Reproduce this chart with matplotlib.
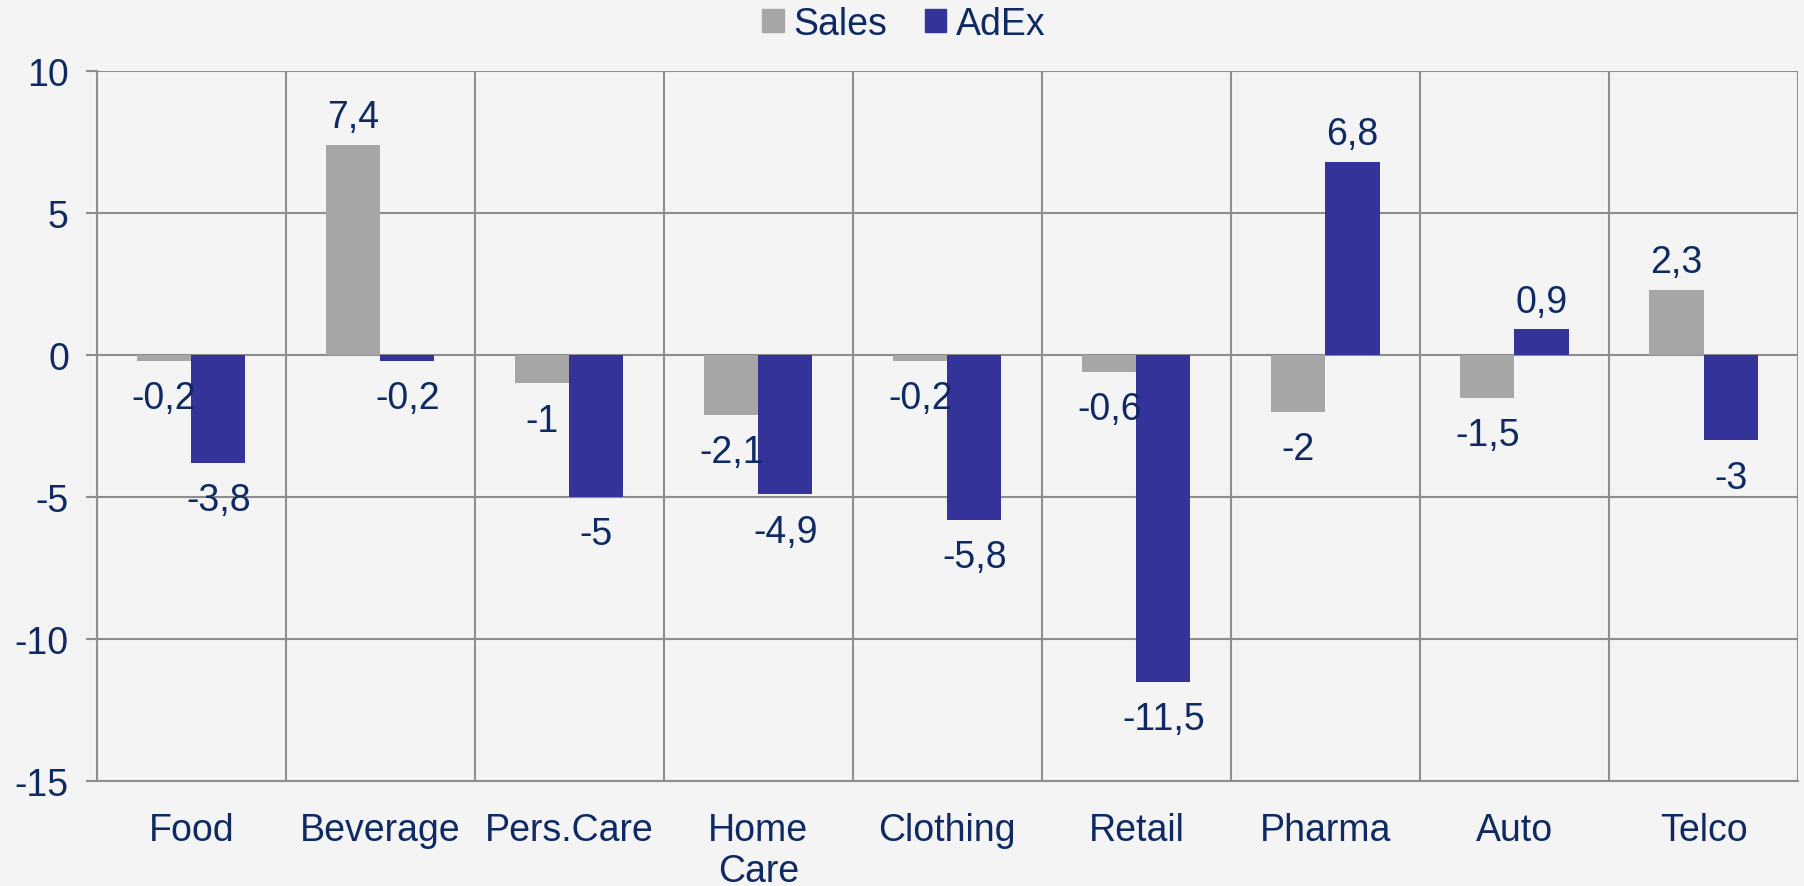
import matplotlib
matplotlib.use("Agg")
import matplotlib.pyplot as plt
import numpy as np
from matplotlib.patches import Patch

categories = ["Food", "Beverage", "Pers.Care", "Home\nCare", "Clothing", "Retail", "Pharma", "Auto", "Telco"]
sales = [-0.2, 7.4, -1, -2.1, -0.2, -0.6, -2, -1.5, 2.3]
adex = [-3.8, -0.2, -5, -4.9, -5.8, -11.5, 6.8, 0.9, -3]
series_names = ["Sales", "AdEx"]
yticks = [-15, -10, -5, 0, 5, 10]

plt.rcParams['font.family'] = ['Liberation Sans', 'DejaVu Sans']
TXT = '#0F2A62'
GRID = '#8E8E8E'
BG = '#F4F4F4'
C_SALES = '#A6A6A6'
C_ADEX = '#333399'
FS = 27

fig = plt.figure(figsize=(18.04, 8.87), dpi=100, facecolor=BG)
ax = fig.add_axes([0.0536, 0.1184, 0.9431, 0.8004], facecolor=BG)

x = np.arange(len(categories))
w = 0.286
b1 = ax.bar(x - w/2, sales, w, color=C_SALES, zorder=3)
b2 = ax.bar(x + w/2, adex, w, color=C_ADEX, zorder=3)

def fmt(v):
    s = f"{v:g}"
    return s.replace('.', ',')

for bars, vals in ((b1, sales), (b2, adex)):
    for r, v in zip(bars, vals):
        cx = r.get_x() + r.get_width() / 2
        if v >= 0:
            ax.annotate(fmt(v), (cx, v), xytext=(0, 7), textcoords='offset points',
                        ha='center', va='bottom', fontsize=FS, color=TXT, zorder=5)
        else:
            ax.annotate(fmt(v), (cx, v), xytext=(0, -14), textcoords='offset points',
                        ha='center', va='top', fontsize=FS, color=TXT, zorder=5)

ax.set_ylim(-15, 10)
ax.set_xlim(-0.5, len(categories) - 0.5)
ax.set_yticks(yticks)
ax.set_yticklabels([str(t) for t in yticks], fontsize=FS, color=TXT)
ax.set_xticks(x)
ax.set_xticklabels(categories, fontsize=FS, color=TXT, linespacing=1.2)
ax.tick_params(axis='x', length=0, pad=22)
ax.tick_params(axis='y', length=8, width=1.5, color=GRID, pad=12)

ax.set_xticks(np.arange(len(categories) + 1) - 0.5, minor=True)
ax.tick_params(axis='x', which='minor', length=0)
ax.grid(True, which='minor', axis='x', color=GRID, linewidth=1.5, zorder=1)
ax.grid(True, which='major', axis='y', color=GRID, linewidth=1.5, zorder=1)
ax.grid(False, which='major', axis='x')
for s in ax.spines.values():
    s.set_color(GRID)
    s.set_linewidth(1.5)
ax.spines['top'].set_visible(False)
ax.spines['right'].set_visible(False)

handles = [Patch(color=C_SALES), Patch(color=C_ADEX)]
fig.legend(handles, series_names, loc='center', bbox_to_anchor=(0.501, 0.972), ncol=2,
           frameon=False, fontsize=FS, labelcolor=TXT, handlelength=0.58, handleheight=0.58,
           handletextpad=0.25, columnspacing=1.0)

fig.savefig('out.png', dpi=100, facecolor=BG)
